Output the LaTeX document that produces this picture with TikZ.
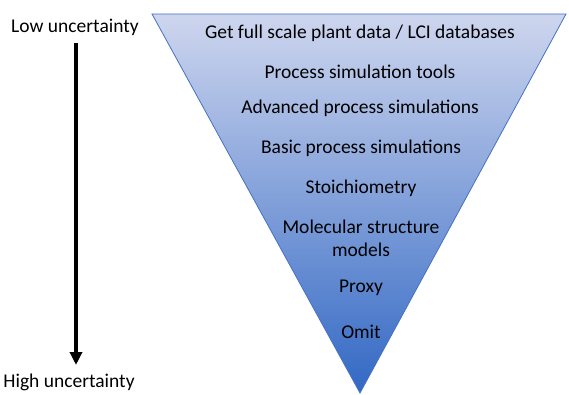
\documentclass[tikz,border=0pt]{standalone}
\usepackage{fontspec}
\setmainfont{Carlito}
\usetikzlibrary{arrows.meta}
\definecolor{toptri}{RGB}{206,214,238}
\definecolor{midtri}{RGB}{160,181,226}
\definecolor{bottri}{RGB}{50,104,196}
\definecolor{edgetri}{RGB}{68,114,196}
\tikzset{
  lbl/.style={font=\fontsize{19.5}{23}\selectfont, inner sep=0pt, align=center, text=black},
  bigarrow/.style={line width=3.6pt, -{Triangle[width=12pt,length=13pt]}},
}
\begin{document}
\begin{tikzpicture}[x=1pt,y=-1pt]
\useasboundingbox (0,0) rectangle (569,395);
\shade[top color=toptri, middle color=midtri, bottom color=bottri, draw=edgetri, line width=0.8pt]
  (152,14) -- (566,14) -- (360,393) -- cycle;
\node[lbl] (t1) at (360,33) {Get full scale plant data / LCI databases};
\node[lbl] (t2) at (360,72) {Process simulation tools};
\node[lbl] (t3) at (360,108) {Advanced process simulations};
\node[lbl] (t4) at (361,148) {Basic process simulations};
\node[lbl] (t5) at (361,188) {Stoichiometry};
\node[lbl] (t6) at (361,238) {Molecular structure\\models};
\node[lbl] (t7) at (361,288) {Proxy};
\node[lbl] (t8) at (361,332) {Omit};
\node[lbl] (low) at (75,27) {Low uncertainty};
\node[lbl] (high) at (69,382) {High uncertainty};
\coordinate (as) at (76,43);
\coordinate (ae) at (76,365);
\draw[bigarrow] (as) -- (ae);
\end{tikzpicture}
\end{document}
